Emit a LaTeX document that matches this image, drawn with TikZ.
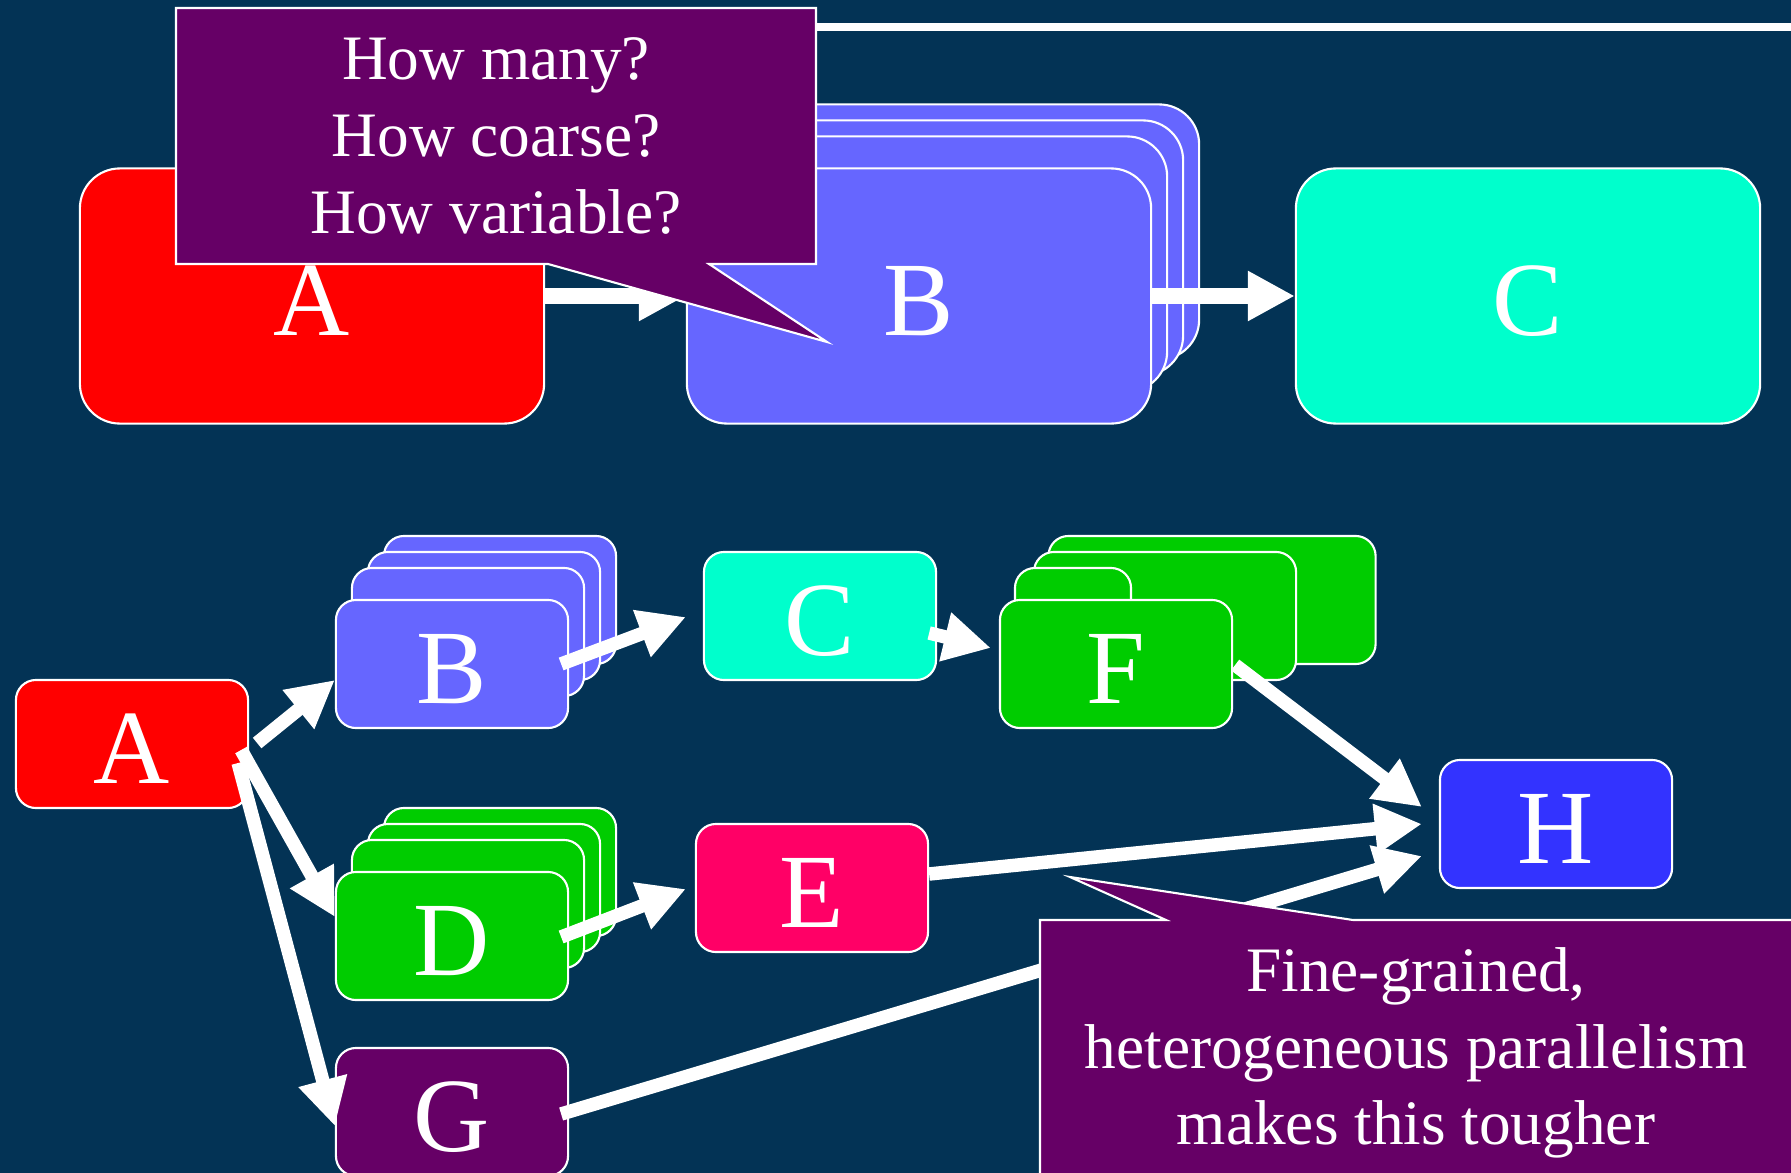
\documentclass[tikz,border=0pt]{standalone}
\usepackage{fontspec}
\setmainfont{Liberation Serif}
\usetikzlibrary{arrows.meta,calc}

\definecolor{slidebg}{HTML}{033355}
\definecolor{boxred}{HTML}{FF0000}
\definecolor{boxblue}{HTML}{6666FF}
\definecolor{boxaqua}{HTML}{00FFCC}
\definecolor{boxgreen}{HTML}{00CC00}
\definecolor{boxpink}{HTML}{FF0066}
\definecolor{boxpurple}{HTML}{660066}
\definecolor{boxdeep}{HTML}{3333FF}

\tikzset{
  bigbox/.style={draw=white, line width=0.6pt, rounded corners=0.4cm,
    minimum width=4.64cm, minimum height=2.55cm, inner sep=0pt,
    text=white, font=\fontsize{30}{36}\selectfont, text height=0.78cm, text depth=0cm},
  smallbox/.style={bigbox, rounded corners=0.2cm, minimum width=2.32cm, minimum height=1.28cm},
  thickarrow/.style={draw=white, line width=0.16cm, -{Triangle[length=0.47cm,width=0.47cm]}},
  thinarrow/.style={thickarrow, line width=0.135cm},
  bubble/.style={fill=boxpurple, draw=white, line width=0.6pt},
  bubbletext/.style={text=white, align=center, font=\fontsize{18}{21.8}\selectfont},
}

\begin{document}
\begin{tikzpicture}[x=0.01cm, y=-0.01cm]
  \useasboundingbox (0,0) rectangle (1791,1173);
  \clip (0,0) rectangle (1791,1173);
  \fill[slidebg] (0,0) rectangle (1791,1173);
  \draw[white, line width=0.083cm] (600,27) -- (1791,27);

  % coarse grained row
  \node[bigbox, fill=boxred] (A1) at (312,296) {A};
  \node[bigbox, fill=boxblue] (B1c) at (967,232) {};
  \node[bigbox, fill=boxblue] (B1b) at (951,248) {};
  \node[bigbox, fill=boxblue] (B1a) at (935,264) {};
  \node[bigbox, fill=boxblue] (B1) at (919,296) {B};
  \node[bigbox, fill=boxaqua] (C1) at (1528,296) {C};

  \draw[thickarrow] (A1.east) -- (B1.west);
  \draw[thickarrow] (B1.east) -- (C1.west);

  % fine grained graph
  \node[smallbox, fill=boxred] (A2) at (132,744) {A};
  \node[smallbox, fill=boxblue] (B2c) at (500,600) {};
  \node[smallbox, fill=boxblue] (B2b) at (484,616) {};
  \node[smallbox, fill=boxblue] (B2a) at (468,632) {};
  \node[smallbox, fill=boxblue] (B2) at (452,664) {B};
  \node[smallbox, fill=boxaqua] (C2) at (820,616) {C};
  \node[smallbox, fill=boxgreen] (D2c) at (500,872) {};
  \node[smallbox, fill=boxgreen] (D2b) at (484,888) {};
  \node[smallbox, fill=boxgreen] (D2a) at (468,904) {};
  \node[smallbox, fill=boxgreen] (D2) at (452,936) {D};
  \node[smallbox, fill=boxpink] (E2) at (812,888) {E};
  \node[smallbox, fill=boxpurple] (G2) at (452,1112) {G};
  \node[smallbox, fill=boxgreen, minimum width=3.27cm] (F2c) at (1212,600) {};
  \node[smallbox, fill=boxgreen, minimum width=2.62cm] (F2b) at (1165,616) {};
  \node[smallbox, fill=boxgreen, minimum width=1.16cm] (F2a) at (1073,632) {};
  \node[smallbox, fill=boxgreen] (F2) at (1116,664) {F};
  \node[smallbox, fill=boxdeep] (H2) at (1556,824) {H};

  \draw[thinarrow] ($(A2.east)+(8,-1)$) -- ($(B2.west)+(0,16)$);
  \draw[thinarrow] ($(A2.east)+(-8,6)$) -- ($(D2.west)+(0,-19)$);
  \draw[thinarrow] ($(A2.east)+(-11,19)$) -- ($(G2.west)+(0,14)$);
  \draw[thinarrow] ($(B2.east)+(-8,0)$) -- ($(C2.west)+(-17,1)$);
  \draw[thinarrow] ($(D2.east)+(-8,1)$) -- ($(E2.west)+(-9,1)$);
  \draw[thinarrow] ($(C2.east)+(-8,17)$) -- ($(F2.west)+(-8,-16)$);
  \draw[thinarrow] ($(F2.east)+(2,1)$) -- ($(H2.west)+(-17,-17)$);
  \draw[thinarrow] ($(E2.east)+(0,-14)$) -- ($(H2.west)+(-17,0)$);
  \draw[thinarrow] ($(G2.east)+(-8,2)$) -- ($(H2.west)+(-17,32)$);

  % callouts
  \draw[bubble] (176,8) -- (816,8) -- (816,264) -- (709,264) -- (827,342) -- (548,264) -- (176,264) -- cycle;
  \node[bubbletext] (askq) at (496,136) {How many?\\How coarse?\\How variable?};
  \draw[bubble] (1040,920) -- (1166,920) -- (1070,877) -- (1353,920) -- (1800,920) -- (1800,1180) -- (1040,1180) -- cycle;
  \node[bubbletext] (note) at (1416,1053) {Fine-grained,\\heterogeneous parallelism\\makes this tougher};
\end{tikzpicture}
\end{document}
